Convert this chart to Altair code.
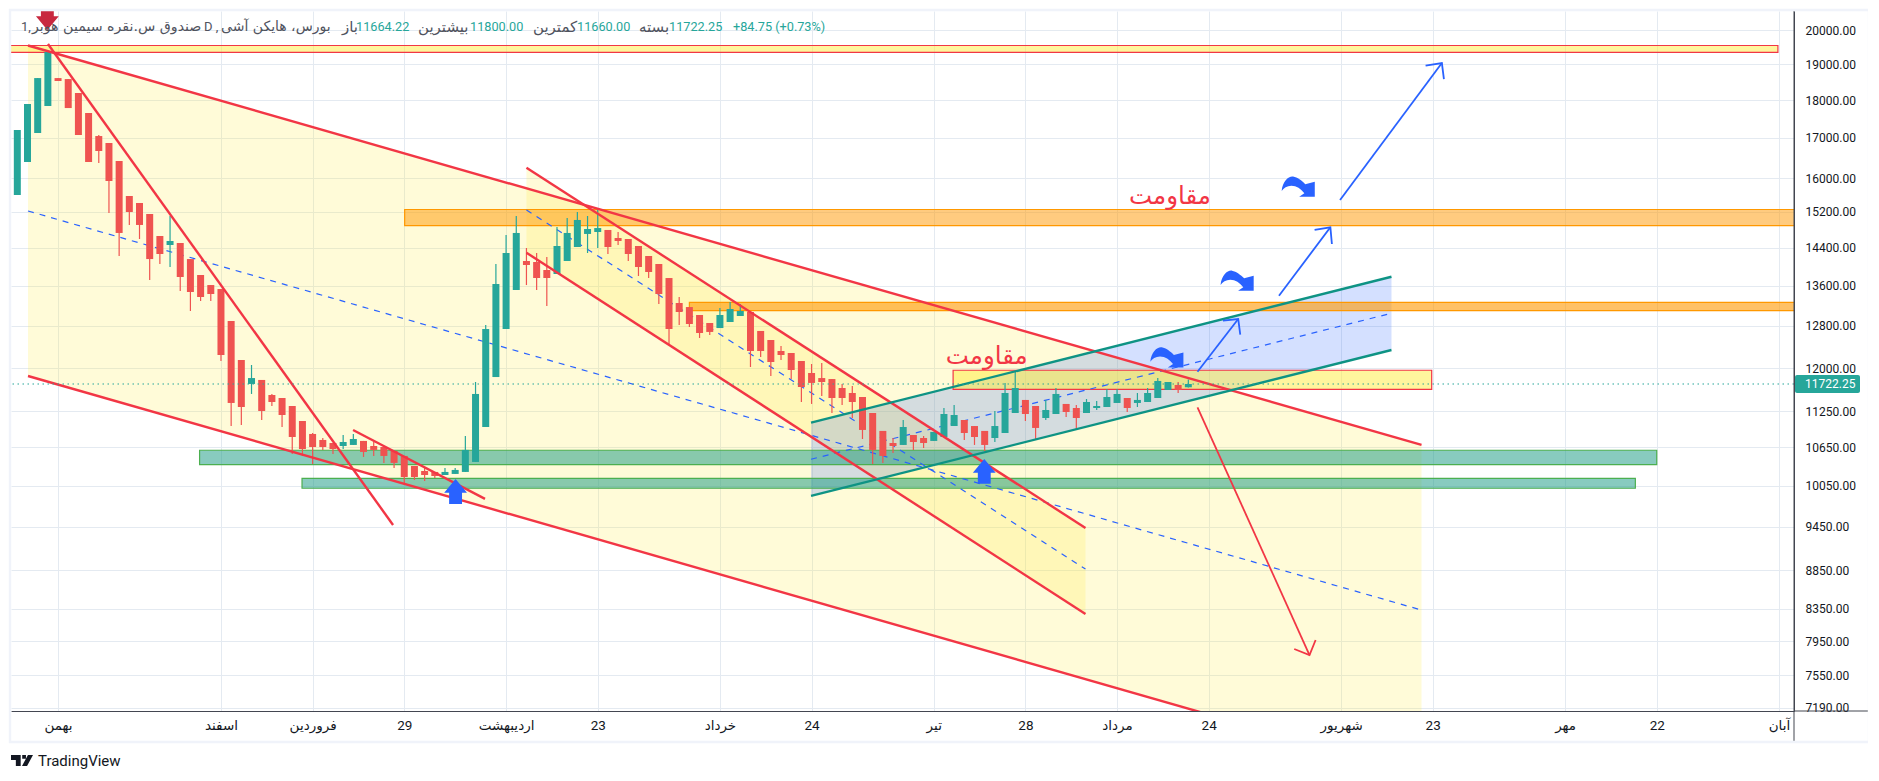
import altair as alt
import pandas as pd

# ---------- candles (Heikin Ashi, daily) ----------
opens = [15595,16392,17126,17839,18608,18580,18193,17652,17048,16869,16417,15572,15408,15154,14659,14461,14505,14157,13820,13612,
13530,12893,12155,11723,11794,11529,11477,11339,11085,10870,10772,10723,10674,10691,10756,10674,10658,10595,10515,10357,
10279,10264,10217,10233,10264,10420,10985,11846,12737,13511,14116,14094,13925,13841,14116,14417,14704,14748,14793,14615,
14593,14439,14222,14052,13757,13248,13167,13010,12854,12756,12873,12990,13069,12700,12528,12321,12284,12137,11919,11828,
11810,11652,11564,11494,11220,10920,10723,10691,10853,10804,10756,10820,11001,11102,11001,10920,10804,10886,11220,11443,
11339,11135,11203,11374,11305,11220,11305,11322,11391,11477,11391,11408,11477,11617,11705,11664.22]
closes = [17204,17893,18608,19355,18526,17784,17074,16392,16667,15929,14726,15200,14905,14157,14265,14549,13778,13470,13368,13429,
12247,11391,11322,11828,11254,11408,11186,10820,10626,10658,10658,10626,10739,10788,10579,10611,10515,10405,10186,10186,
10217,10201,10264,10295,10611,11547,12737,13633,14287,14726,14030,13757,13757,14439,14726,15018,14814,14836,14417,14549,
14265,13988,13883,13429,12737,13069,12834,12661,12681,13010,13128,13089,12321,12321,12118,12247,11973,11669,11741,11758,
11477,11477,11408,10936,10611,10515,10674,10985,10739,10723,10903,11203,11186,10886,10820,10691,11001,11564,11652,11203,
10969,11271,11547,11237,11135,11408,11339,11494,11547,11305,11443,11564,11776,11758,11617,11722.25]
highs = [17204,17893,18608,19355,18608,18580,18193,17652,17074,16869,16417,15572,15408,15154,14659,15108,14505,14157,13820,13612,
13530,12893,12155,12063,11794,11547,11477,11339,11085,10886,10804,10723,10853,10870,10756,10739,10658,10595,10515,10357,
10326,10264,10326,10326,10837,11758,12815,14052,14681,15108,14395,14287,14200,14859,15062,15200,15108,15246,14793,14748,
14593,14439,14222,14052,13757,13368,13167,13010,12854,13147,13268,13228,13069,12700,12528,12414,12284,12137,12082,12100,
11810,11723,11687,11494,11220,10920,10804,11102,10853,10837,10903,11305,11357,11102,11001,10920,11254,11741,11955,11443,
11339,11443,11652,11374,11357,11460,11425,11634,11634,11477,11564,11652,11828,11758,11758,11800]
lows = [15595,16392,17126,17839,18526,17784,17074,16392,16368,15177,14222,14905,14592,13716,14052,13988,13491,13089,13288,13288,
12137,11001,11018,11547,11102,11339,10985,10547,10515,10389,10611,10547,10626,10691,10499,10515,10405,10326,10064,10141,
10126,10171,10217,10233,10264,10420,10985,11846,12737,13511,13612,13511,13187,13841,14116,14417,14287,14395,14265,14461,
14116,13799,13757,13228,12452,12815,12776,12565,12623,12756,12873,12990,12027,12209,11865,12155,11810,11408,11374,11512,
11220,11357,11135,10788,10389,10405,10563,10691,10611,10642,10756,10820,11001,10772,10691,10595,10739,10886,11220,11085,
10772,11102,11203,11152,10953,11220,11271,11322,11391,11237,11322,11408,11477,11617,11564,11660]

# ---------- axes ----------
price_ticks = [20000,19000,18000,17000,16000,15200,14400,13600,12800,12000,11250,10650,10050,9450,8850,8350,7950,7550,7190]
x_tick_pos = [4,20,29,38,48,57,69,78,90,99,108,117,130,139,152,161,173]
x_tick_txt = ["بهمن","اسفند","فروردین","29","اردیبهشت","23","خرداد","24","تیر","28","مرداد","24","شهریور","23","مهر","22","آبان"]
last_price = [11722.25]

# ---------- drawings: x in bar numbers, y in prices ----------
channels = [  # x0, x1, top0, top1, bot0, bot1, mid0, mid1
    (1.05,137.9,19546,10691,11865,6489,15223,8331,"#F23645","#FFEB3B",0.2),
    (50.0,104.9,16251,9431,14293,8281,15246,8864,"#F23645","#FFEB3B",0.2),
    (77.95,134.95,11057,13784,9899,12340,10463,13044,"#0E9384","#2962FF",0.2),
]
bands = [  # x0, x1, p0, p1, fill, alpha, stroke
    (-5,172.9,19546,19347,"#FFEB3B",0.5,"#F23645"),
    (38.04,180,15257,14889,"#FF9800",0.5,"#FF9800"),
    (66.0,180,13262,13095,"#FF9800",0.6,"#FF9800"),
    (91.9,138.9,11968,11629,"#FFEB3B",0.5,"#F23645"),
    (17.9,161,10606,10378,"#129880",0.5,"#4CAF50"),
    (27.96,158.9,10166,10014,"#129880",0.5,"#4CAF50"),
]
trend_lines = [
    ("t1",[3.01,36.9],[19590,9474]),
    ("t2",[32.97,45.93],[10936,9854]),
]
blue_arrows = [
    ("a1",[129.9,139.9],[15478,19036]),("a1h",[138.3,139.9,140.1],[18958,19036,18580]),
    ("a2",[123.9,128.95],[13395,14852]),("a2h",[127.4,128.95,129.1],[14793,14852,14483]),
    ("a3",[115.9,119.9],[11942,12931]),("a3h",[118.4,119.9,120.1],[12898,12931,12629]),
]
red_arrows = [
    ("a4",[115.9,126.9],[11317,7784]),("a4h",[125.4,126.9,127.5],[7855,7784,7963]),
]
up_arrow_x, up_arrow_p = [43.04,94.96],[9965,10272]
curve_x, curve_p = [112.9,119.8,125.8],[12215,13716,15809]
label_x, label_p = [113.2,95.2],[15556,12204]
label_txt = "مقاومت"

UP = "M0 -1 L.92 .1 L.52 .1 L.52 1 L-.52 1 L-.52 .1 L-.92 .1 Z"
DOWN = "M0 1 L.92 -.1 L.52 -.1 L.52 -1 L-.52 -1 L-.52 -.1 L-.92 -.1 Z"
CURVE = ("M-.96 .29 C-.9 -.3 -.55 -.58 -.3 -.54 C-.05 -.5 .2 -.3 .4 -.1 L.95 -.25 L.95 .62 L.05 .62 "
         "L.35 .42 C.15 .15 -.1 -.02 -.4 -.02 C-.65 0 -.85 .1 -.96 .29 Z")
LOGO = ("M-1 -.5 H-.12 V.5 H-.56 V-.05 H-1 Z M.02 -.5 H.36 V-.16 H.02 Z M1 -.5 L.46 .5 H0 L.54 -.5 Z")

GREY = "#50535E"
TEAL = "#26A69A"
ARAB = "DejaVu Sans"
NUM = "Roboto"
header = [
    (21,"1,",GREY,13,NUM),(32,"صندوق س.نقره سیمین هوبر",GREY,14.2,ARAB),(204,"D ,",GREY,13,NUM),
    (221,"بورس، هایکن آشی",GREY,14,ARAB),(342,"باز",GREY,15,ARAB),(356,"11664.22",TEAL,12.7,NUM),
    (418,"بیشترین",GREY,15,ARAB),(470,"11800.00",TEAL,12.7,NUM),(533,"کمترین",GREY,15,ARAB),(577,"11660.00",TEAL,12.7,NUM),
    (639,"بسته",GREY,15,ARAB),(669,"11722.25",TEAL,12.7,NUM),(733,"+84.75 (+0.73%)",TEAL,12.7,NUM),
]

GRID = "#E4EAF1"
DARK = "#434651"
XS = alt.Scale(domain=[-0.62,174.48], nice=False, zero=False)
YS = alt.Scale(type="log", domain=[7153,20592], nice=False, zero=False)
label_expr = "{" + ",".join(f"'{p}':'{t}'" for p,t in zip(x_tick_pos,x_tick_txt)) + "}[datum.value]"
AX = alt.Axis(values=x_tick_pos,labelExpr=label_expr,title=None,grid=True,gridColor=GRID,gridWidth=1,
        ticks=False,domainColor=DARK,domainWidth=1,labelFont="Roboto, DejaVu Sans",labelFontSize=13.5,labelColor="#131722",labelPadding=7,
        labelOverlap=False,labelFlush=False,labelBound=False)
AY = alt.Axis(orient="right",values=price_ticks,format=".2f",title=None,grid=True,gridColor=GRID,gridWidth=1,
        ticks=False,domainColor=DARK,domainWidth=1,labelFont="Roboto",labelFontSize=12,labelColor="#131722",labelPadding=11,
        labelOverlap=False,labelFlush=False,labelBound=False)
X = lambda f: alt.X(f, type="quantitative", scale=XS, axis=AX)
Y = lambda f: alt.Y(f, type="quantitative", scale=YS, axis=AY)
one = pd.DataFrame({"a":[0]})

candles = pd.DataFrame({"i":range(len(opens)),"o":opens,"c":closes,"h":highs,"l":lows})
candles["d"] = ["up" if c>=o else "dn" for o,c in zip(opens,closes)]
cscale = alt.Scale(domain=["up","dn"],range=[TEAL,"#EF5350"])

layers = []

# channel fills and bands lie under the candles
for (x0,x1,t0,t1,b0,b1,m0,m1,lc,fc,fa) in channels:
    df = pd.DataFrame({"i":[x0,x1],"t":[t0,t1],"b":[b0,b1]})
    layers.append(alt.Chart(df).mark_area(color=fc,opacity=fa,clip=True,orient="vertical").encode(x=X("i"),y=Y("t"),y2="b:Q"))
for (x0,x1,p0,p1,fc,fa,sc) in bands:
    df = pd.DataFrame({"x0":[x0],"x1":[x1],"p0":[p0],"p1":[p1]})
    layers.append(alt.Chart(df).mark_rect(color=fc,fillOpacity=fa,stroke=sc,strokeWidth=1.2,clip=True).encode(
        x=X("x0"),x2="x1:Q",y=Y("p0"),y2="p1:Q"))
for (x0,x1,t0,t1,b0,b1,m0,m1,lc,fc,fa) in channels:
    df = pd.DataFrame({"i":[x0,x1],"m":[m0,m1]})
    layers.append(alt.Chart(df).mark_line(color="#2962FF",strokeWidth=1.2,strokeDash=[6,6],clip=True).encode(x=X("i"),y=Y("m")))

# candles
layers.append(alt.Chart(candles).mark_rule(strokeWidth=1.2,clip=True).encode(x=X("i"),y=Y("h"),y2="l:Q",
    color=alt.Color("d:N",scale=cscale,legend=None)))
layers.append(alt.Chart(candles).mark_rule(strokeWidth=7,clip=True).encode(x=X("i"),y=Y("o"),y2="c:Q",
    color=alt.Color("d:N",scale=cscale,legend=None)))

# channel outlines
for (x0,x1,t0,t1,b0,b1,m0,m1,lc,fc,fa) in channels:
    df = pd.DataFrame({"i":[x0,x1],"t":[t0,t1],"b":[b0,b1]})
    layers.append(alt.Chart(df).mark_line(color=lc,strokeWidth=2.4,clip=True).encode(x=X("i"),y=Y("t")))
    layers.append(alt.Chart(df).mark_line(color=lc,strokeWidth=2.4,clip=True).encode(x=X("i"),y=Y("b")))

# free lines and arrows
for items,col,w in [(trend_lines,"#F23645",2.4),(blue_arrows,"#2962FF",1.8),(red_arrows,"#F23645",1.8)]:
    for name,xs,ps in items:
        df = pd.DataFrame({"i":xs,"p":ps})
        layers.append(alt.Chart(df).mark_line(color=col,strokeWidth=w,clip=True).encode(
            x=alt.X("i:Q",scale=XS,axis=AX,sort=None),y=Y("p"),order=alt.Order("n:Q")).transform_window(n="row_number()"))

layers.append(alt.Chart(pd.DataFrame({"i":up_arrow_x,"p":up_arrow_p})).mark_point(shape=UP,size=615,filled=True,color="#2962FF",opacity=1,clip=True).encode(x=X("i"),y=Y("p")))
layers.append(alt.Chart(pd.DataFrame({"i":[2.95],"p":[20390]})).mark_point(shape=DOWN,size=615,filled=True,color="#C8283F",opacity=1,clip=True).encode(x=X("i"),y=Y("p")))
layers.append(alt.Chart(pd.DataFrame({"i":curve_x,"p":curve_p})).mark_point(shape=CURVE,size=1203,filled=True,color="#2962FF",opacity=1).encode(x=X("i"),y=Y("p")))
layers.append(alt.Chart(pd.DataFrame({"i":label_x,"p":label_p})).mark_text(text=label_txt,font=ARAB,fontSize=24.5,color="#F23645").encode(x=X("i"),y=Y("p")))

# last price
layers.append(alt.Chart(pd.DataFrame({"p":last_price})).mark_rule(color=TEAL,strokeWidth=1.2,strokeDash=[1.5,3.5]).encode(y=Y("p")))
layers.append(alt.Chart(one).mark_rect(color=TEAL,cornerRadius=2).encode(x=alt.value(1784),x2=alt.value(1849),y=alt.value(364),y2=alt.value(382)))
layers.append(alt.Chart(one).mark_text(text="11722.25",font="Roboto",fontSize=12,color="#FFFFFF",align="left").encode(x=alt.value(1794),y=alt.value(373)))

# frame
layers.append(alt.Chart(one).mark_rule(color=DARK,strokeWidth=1).encode(x=alt.value(1783),y=alt.value(0),y2=alt.value(731)))
layers.append(alt.Chart(one).mark_rule(color=DARK,strokeWidth=1).encode(x=alt.value(1783),x2=alt.value(1858),y=alt.value(700)))
layers.append(alt.Chart(one).mark_rect(filled=False,stroke="#F0F3FA",strokeWidth=2.4,opacity=1).encode(x=alt.value(-1),x2=alt.value(1858),y=alt.value(-1),y2=alt.value(731)))

# header
for px,t,c,fs,fnt in header:
    layers.append(alt.Chart(one).mark_text(text=t,font=fnt,fontSize=fs,color=c,align="left").encode(x=alt.value(px-11),y=alt.value(15.7)))

# footer
layers.append(alt.Chart(one).mark_point(shape=LOGO,size=484,filled=True,color="#131722",opacity=1).encode(x=alt.value(11),y=alt.value(749.5)))
layers.append(alt.Chart(one).mark_text(text="TradingView",font="Roboto",fontSize=15,color="#131722",align="left").encode(x=alt.value(27),y=alt.value(749.5)))

chart = alt.layer(*layers).properties(width=1783,height=700,
    padding={"left":3,"top":3,"right":74,"bottom":59},
    autosize=alt.AutoSizeParams(type="none"),background="white").configure_view(stroke=None)

chart.save("out.html", embed_options={"renderer": "svg", "actions": False})
